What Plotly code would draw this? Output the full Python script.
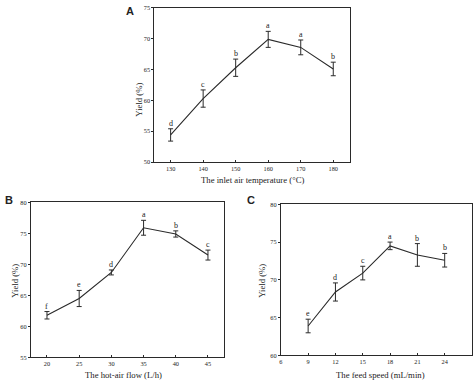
import plotly.graph_objects as go

# Panel A
a_x = [130, 140, 150, 160, 170, 180]
a_y = [54.4, 60.3, 65.3, 69.9, 68.6, 65.1]
a_err = [1.0, 1.4, 1.4, 1.3, 1.2, 1.1]
a_let = ["d", "c", "b", "a", "a", "b"]

# Panel B
b_x = [20, 25, 30, 35, 40, 45]
b_y = [61.8, 64.5, 68.7, 75.9, 74.9, 71.5]
b_err = [0.6, 1.3, 0.4, 1.2, 0.5, 0.8]
b_let = ["f", "e", "d", "a", "b", "c"]

# Panel C
c_x = [9, 12, 15, 18, 21, 24]
c_y = [63.9, 68.4, 70.9, 74.5, 73.3, 72.6]
c_err = [0.9, 1.2, 0.9, 0.5, 1.5, 0.9]
c_let = ["e", "d", "c", "a", "b", "b"]

SERIF = "Liberation Serif"
LINE = "#2a2a2a"
TXT = "#222222"
W, H = 474, 385

fig = go.Figure()
panels = [
    ("x", "y", a_x, a_y, a_err, a_let),
    ("x2", "y2", b_x, b_y, b_err, b_let),
    ("x3", "y3", c_x, c_y, c_err, c_let),
]
annotations = []
for xa, ya, xs, ys, es, ls in panels:
    fig.add_trace(go.Scatter(
        x=xs, y=ys, xaxis=xa, yaxis=ya, mode="lines",
        line=dict(color=LINE, width=1.1),
        error_y=dict(type="data", array=es, visible=True, color=LINE,
                     thickness=1, width=2.5),
        showlegend=False, hoverinfo="skip"))
    for xv, yv, ev, lt in zip(xs, ys, es, ls):
        annotations.append(dict(
            x=xv, y=yv + ev, xref=xa, yref=ya, text=lt, showarrow=False,
            yanchor="bottom", yshift=-1,
            font=dict(family=SERIF, size=8, color=TXT)))

def paper_text(txt, x, y, size, family=SERIF, angle=0):
    annotations.append(dict(
        x=x / W, y=1 - y / H, xref="paper", yref="paper", text=txt,
        showarrow=False, xanchor="center", yanchor="middle", textangle=angle,
        font=dict(family=family, size=size, color=TXT)))

# panel letters
paper_text("<b>A</b>", 129, 7, 11, "Liberation Sans")
paper_text("<b>B</b>", 7, 200, 11, "Liberation Sans")
paper_text("<b>C</b>", 250, 200, 11, "Liberation Sans")

# axis titles
paper_text("The inlet air temperature (\u00b0C)", 252, 179, 8.7)
paper_text("Yield (%)", 138, 97, 8.7, angle=-90)
paper_text("The hot-air flow (L/h)", 122, 378, 8.7)
paper_text("Yield (%)", 13, 282, 8.7, angle=-90)
paper_text("The feed speed (mL/min)", 380, 378, 8.7)
paper_text("Yield (%)", 261, 282, 8.7, angle=-90)

def ax(domain, rng, tickvals, ticks):
    return dict(
        domain=domain, range=rng, tickvals=tickvals,
        showline=True, mirror=True, linecolor=LINE, linewidth=1,
        ticks=ticks, ticklen=2, tickcolor=LINE, tickwidth=1,
        showgrid=False, zeroline=False,
        tickfont=dict(family=SERIF, size=6.3, color=TXT))

fig.update_layout(
    width=W, height=H, margin=dict(l=0, r=0, t=0, b=0),
    paper_bgcolor="white", plot_bgcolor="white",
    xaxis=dict(**ax([153 / W, 349 / W], [125, 185], a_x, "inside"), anchor="y"),
    yaxis=dict(**ax([1 - 161 / H, 1 - 4 / H], [50, 75], [50, 55, 60, 65, 70, 75],
                    "outside"), anchor="x"),
    xaxis2=dict(**ax([29 / W, 223 / W], [17.5, 47.5], b_x, "inside"), anchor="y2"),
    yaxis2=dict(**ax([1 - 360 / H, 1 - 202 / H], [55, 80], [55, 60, 65, 70, 75, 80],
                     "outside"), anchor="x2"),
    xaxis3=dict(**ax([280 / W, 472 / W], [6, 27], [6, 9, 12, 15, 18, 21, 24, 27],
                     "inside"), anchor="y3"),
    yaxis3=dict(**ax([1 - 358 / H, 1 - 204 / H], [60, 80], [60, 65, 70, 75, 80],
                     "outside"), anchor="x3"),
    annotations=annotations,
)

fig.write_html("out.html", config={"displayModeBar": False},
               post_script="document.body.style.margin='0px';")
